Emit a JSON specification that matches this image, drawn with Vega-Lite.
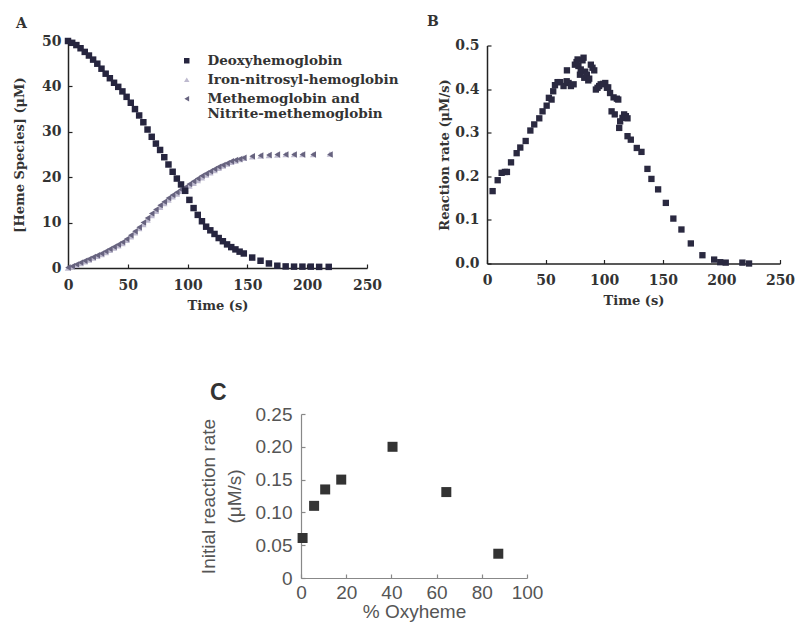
{
  "$schema": "https://vega.github.io/schema/vega-lite/v6.json",
  "background": "white",
  "padding": {"left": 13, "top": 14, "right": 5, "bottom": 5},
  "config": {
    "view": {"stroke": null},
    "axis": {"grid": false, "labelFlush": false, "domainColor": "#222", "tickColor": "#222", "domainWidth": 1.5, "tickWidth": 1.2, "tickSize": -4,
      "labelFont": "DejaVu Serif", "labelFontWeight": "bold", "labelFontSize": 14, "labelColor": "#333",
      "titleFont": "DejaVu Serif", "titleFontWeight": "bold", "titleFontSize": 13, "titleColor": "#333"},
    "axisX": {"labelPadding": 14, "titlePadding": 7},
    "axisY": {"labelPadding": 11}
  },
  "datasets": {
    "heme": [
      {"t":0,"v":0.0,"species":"Iron-nitrosyl-hemoglobin"},{"t":3.5,"v":0.3,"species":"Iron-nitrosyl-hemoglobin"},{"t":7,"v":0.6,"species":"Iron-nitrosyl-hemoglobin"},{"t":10.5,"v":1.0,"species":"Iron-nitrosyl-hemoglobin"},{"t":14,"v":1.4,"species":"Iron-nitrosyl-hemoglobin"},{"t":17.5,"v":1.8,"species":"Iron-nitrosyl-hemoglobin"},{"t":21,"v":2.2,"species":"Iron-nitrosyl-hemoglobin"},{"t":24.5,"v":2.6,"species":"Iron-nitrosyl-hemoglobin"},{"t":28,"v":3.0,"species":"Iron-nitrosyl-hemoglobin"},{"t":31.5,"v":3.4,"species":"Iron-nitrosyl-hemoglobin"},{"t":35,"v":3.9,"species":"Iron-nitrosyl-hemoglobin"},{"t":38.5,"v":4.4,"species":"Iron-nitrosyl-hemoglobin"},{"t":42,"v":4.9,"species":"Iron-nitrosyl-hemoglobin"},{"t":45.5,"v":5.4,"species":"Iron-nitrosyl-hemoglobin"},{"t":49,"v":6.1,"species":"Iron-nitrosyl-hemoglobin"},{"t":52.5,"v":6.9,"species":"Iron-nitrosyl-hemoglobin"},{"t":56,"v":7.8,"species":"Iron-nitrosyl-hemoglobin"},{"t":59.5,"v":8.7,"species":"Iron-nitrosyl-hemoglobin"},{"t":63,"v":9.6,"species":"Iron-nitrosyl-hemoglobin"},{"t":66.5,"v":10.6,"species":"Iron-nitrosyl-hemoglobin"},{"t":70,"v":11.6,"species":"Iron-nitrosyl-hemoglobin"},{"t":73.5,"v":12.5,"species":"Iron-nitrosyl-hemoglobin"},{"t":77,"v":13.4,"species":"Iron-nitrosyl-hemoglobin"},{"t":80.5,"v":14.2,"species":"Iron-nitrosyl-hemoglobin"},{"t":84,"v":15.0,"species":"Iron-nitrosyl-hemoglobin"},{"t":87.5,"v":15.7,"species":"Iron-nitrosyl-hemoglobin"},{"t":91,"v":16.3,"species":"Iron-nitrosyl-hemoglobin"},{"t":94.5,"v":16.9,"species":"Iron-nitrosyl-hemoglobin"},{"t":98,"v":17.4,"species":"Iron-nitrosyl-hemoglobin"},{"t":101.5,"v":18.1,"species":"Iron-nitrosyl-hemoglobin"},{"t":105,"v":18.7,"species":"Iron-nitrosyl-hemoglobin"},{"t":108.5,"v":19.3,"species":"Iron-nitrosyl-hemoglobin"},{"t":112,"v":19.9,"species":"Iron-nitrosyl-hemoglobin"},{"t":115.5,"v":20.5,"species":"Iron-nitrosyl-hemoglobin"},{"t":119,"v":21.0,"species":"Iron-nitrosyl-hemoglobin"},{"t":122.5,"v":21.5,"species":"Iron-nitrosyl-hemoglobin"},{"t":126,"v":22.0,"species":"Iron-nitrosyl-hemoglobin"},{"t":129.5,"v":22.5,"species":"Iron-nitrosyl-hemoglobin"},{"t":133,"v":22.9,"species":"Iron-nitrosyl-hemoglobin"},{"t":136.5,"v":23.3,"species":"Iron-nitrosyl-hemoglobin"},{"t":140,"v":23.6,"species":"Iron-nitrosyl-hemoglobin"},{"t":143.5,"v":23.9,"species":"Iron-nitrosyl-hemoglobin"},{"t":147,"v":24.2,"species":"Iron-nitrosyl-hemoglobin"},{"t":154,"v":24.5,"species":"Iron-nitrosyl-hemoglobin"},{"t":161,"v":24.7,"species":"Iron-nitrosyl-hemoglobin"},{"t":168,"v":24.8,"species":"Iron-nitrosyl-hemoglobin"},{"t":175,"v":24.9,"species":"Iron-nitrosyl-hemoglobin"},{"t":182,"v":25.0,"species":"Iron-nitrosyl-hemoglobin"},{"t":189,"v":25.0,"species":"Iron-nitrosyl-hemoglobin"},{"t":196,"v":25.0,"species":"Iron-nitrosyl-hemoglobin"},{"t":205,"v":25.0,"species":"Iron-nitrosyl-hemoglobin"},{"t":219,"v":25.1,"species":"Iron-nitrosyl-hemoglobin"},
      {"t":0,"v":0.1,"species":"Methemoglobin and Nitrite-methemoglobin"},{"t":3.5,"v":0.4,"species":"Methemoglobin and Nitrite-methemoglobin"},{"t":7,"v":0.8,"species":"Methemoglobin and Nitrite-methemoglobin"},{"t":10.5,"v":1.2,"species":"Methemoglobin and Nitrite-methemoglobin"},{"t":14,"v":1.6,"species":"Methemoglobin and Nitrite-methemoglobin"},{"t":17.5,"v":2.0,"species":"Methemoglobin and Nitrite-methemoglobin"},{"t":21,"v":2.4,"species":"Methemoglobin and Nitrite-methemoglobin"},{"t":24.5,"v":2.8,"species":"Methemoglobin and Nitrite-methemoglobin"},{"t":28,"v":3.2,"species":"Methemoglobin and Nitrite-methemoglobin"},{"t":31.5,"v":3.7,"species":"Methemoglobin and Nitrite-methemoglobin"},{"t":35,"v":4.2,"species":"Methemoglobin and Nitrite-methemoglobin"},{"t":38.5,"v":4.7,"species":"Methemoglobin and Nitrite-methemoglobin"},{"t":42,"v":5.2,"species":"Methemoglobin and Nitrite-methemoglobin"},{"t":45.5,"v":5.7,"species":"Methemoglobin and Nitrite-methemoglobin"},{"t":49,"v":6.4,"species":"Methemoglobin and Nitrite-methemoglobin"},{"t":52.5,"v":7.2,"species":"Methemoglobin and Nitrite-methemoglobin"},{"t":56,"v":8.1,"species":"Methemoglobin and Nitrite-methemoglobin"},{"t":59.5,"v":9.0,"species":"Methemoglobin and Nitrite-methemoglobin"},{"t":63,"v":10.0,"species":"Methemoglobin and Nitrite-methemoglobin"},{"t":66.5,"v":11.0,"species":"Methemoglobin and Nitrite-methemoglobin"},{"t":70,"v":12.0,"species":"Methemoglobin and Nitrite-methemoglobin"},{"t":73.5,"v":12.9,"species":"Methemoglobin and Nitrite-methemoglobin"},{"t":77,"v":13.8,"species":"Methemoglobin and Nitrite-methemoglobin"},{"t":80.5,"v":14.6,"species":"Methemoglobin and Nitrite-methemoglobin"},{"t":84,"v":15.4,"species":"Methemoglobin and Nitrite-methemoglobin"},{"t":87.5,"v":16.1,"species":"Methemoglobin and Nitrite-methemoglobin"},{"t":91,"v":16.7,"species":"Methemoglobin and Nitrite-methemoglobin"},{"t":94.5,"v":17.3,"species":"Methemoglobin and Nitrite-methemoglobin"},{"t":98,"v":17.8,"species":"Methemoglobin and Nitrite-methemoglobin"},{"t":101.5,"v":18.5,"species":"Methemoglobin and Nitrite-methemoglobin"},{"t":105,"v":19.1,"species":"Methemoglobin and Nitrite-methemoglobin"},{"t":108.5,"v":19.7,"species":"Methemoglobin and Nitrite-methemoglobin"},{"t":112,"v":20.3,"species":"Methemoglobin and Nitrite-methemoglobin"},{"t":115.5,"v":20.8,"species":"Methemoglobin and Nitrite-methemoglobin"},{"t":119,"v":21.3,"species":"Methemoglobin and Nitrite-methemoglobin"},{"t":122.5,"v":21.8,"species":"Methemoglobin and Nitrite-methemoglobin"},{"t":126,"v":22.3,"species":"Methemoglobin and Nitrite-methemoglobin"},{"t":129.5,"v":22.7,"species":"Methemoglobin and Nitrite-methemoglobin"},{"t":133,"v":23.1,"species":"Methemoglobin and Nitrite-methemoglobin"},{"t":136.5,"v":23.5,"species":"Methemoglobin and Nitrite-methemoglobin"},{"t":140,"v":23.8,"species":"Methemoglobin and Nitrite-methemoglobin"},{"t":143.5,"v":24.0,"species":"Methemoglobin and Nitrite-methemoglobin"},{"t":147,"v":24.3,"species":"Methemoglobin and Nitrite-methemoglobin"},{"t":154,"v":24.6,"species":"Methemoglobin and Nitrite-methemoglobin"},{"t":161,"v":24.8,"species":"Methemoglobin and Nitrite-methemoglobin"},{"t":168,"v":24.9,"species":"Methemoglobin and Nitrite-methemoglobin"},{"t":175,"v":25.0,"species":"Methemoglobin and Nitrite-methemoglobin"},{"t":182,"v":25.0,"species":"Methemoglobin and Nitrite-methemoglobin"},{"t":189,"v":25.0,"species":"Methemoglobin and Nitrite-methemoglobin"},{"t":196,"v":25.0,"species":"Methemoglobin and Nitrite-methemoglobin"},{"t":205,"v":25.0,"species":"Methemoglobin and Nitrite-methemoglobin"},{"t":219,"v":25.0,"species":"Methemoglobin and Nitrite-methemoglobin"},
      {"t":0,"v":50.0,"species":"Deoxyhemoglobin"},{"t":3.5,"v":49.6,"species":"Deoxyhemoglobin"},{"t":7,"v":49.1,"species":"Deoxyhemoglobin"},{"t":10.5,"v":48.4,"species":"Deoxyhemoglobin"},{"t":14,"v":47.6,"species":"Deoxyhemoglobin"},{"t":17.5,"v":46.8,"species":"Deoxyhemoglobin"},{"t":21,"v":45.9,"species":"Deoxyhemoglobin"},{"t":24.5,"v":45.0,"species":"Deoxyhemoglobin"},{"t":28,"v":43.9,"species":"Deoxyhemoglobin"},{"t":31.5,"v":42.8,"species":"Deoxyhemoglobin"},{"t":35,"v":41.8,"species":"Deoxyhemoglobin"},{"t":38.5,"v":40.8,"species":"Deoxyhemoglobin"},{"t":42,"v":39.9,"species":"Deoxyhemoglobin"},{"t":45.5,"v":38.9,"species":"Deoxyhemoglobin"},{"t":49,"v":37.7,"species":"Deoxyhemoglobin"},{"t":52.5,"v":36.4,"species":"Deoxyhemoglobin"},{"t":56,"v":35.0,"species":"Deoxyhemoglobin"},{"t":59.5,"v":33.6,"species":"Deoxyhemoglobin"},{"t":63,"v":32.1,"species":"Deoxyhemoglobin"},{"t":66.5,"v":30.5,"species":"Deoxyhemoglobin"},{"t":70,"v":28.9,"species":"Deoxyhemoglobin"},{"t":73.5,"v":27.4,"species":"Deoxyhemoglobin"},{"t":77,"v":26.0,"species":"Deoxyhemoglobin"},{"t":80.5,"v":24.4,"species":"Deoxyhemoglobin"},{"t":84,"v":22.8,"species":"Deoxyhemoglobin"},{"t":87.5,"v":21.2,"species":"Deoxyhemoglobin"},{"t":91,"v":19.7,"species":"Deoxyhemoglobin"},{"t":94.5,"v":18.4,"species":"Deoxyhemoglobin"},{"t":98,"v":17.0,"species":"Deoxyhemoglobin"},{"t":101.5,"v":15.0,"species":"Deoxyhemoglobin"},{"t":105,"v":13.2,"species":"Deoxyhemoglobin"},{"t":108.5,"v":11.7,"species":"Deoxyhemoglobin"},{"t":112,"v":10.3,"species":"Deoxyhemoglobin"},{"t":115.5,"v":9.1,"species":"Deoxyhemoglobin"},{"t":119,"v":8.3,"species":"Deoxyhemoglobin"},{"t":122.5,"v":7.5,"species":"Deoxyhemoglobin"},{"t":126,"v":6.6,"species":"Deoxyhemoglobin"},{"t":129.5,"v":5.9,"species":"Deoxyhemoglobin"},{"t":133,"v":5.2,"species":"Deoxyhemoglobin"},{"t":136.5,"v":4.6,"species":"Deoxyhemoglobin"},{"t":140,"v":4.1,"species":"Deoxyhemoglobin"},{"t":143.5,"v":3.6,"species":"Deoxyhemoglobin"},{"t":147,"v":3.2,"species":"Deoxyhemoglobin"},{"t":154,"v":2.3,"species":"Deoxyhemoglobin"},{"t":161,"v":1.6,"species":"Deoxyhemoglobin"},{"t":168,"v":1.0,"species":"Deoxyhemoglobin"},{"t":175,"v":0.5,"species":"Deoxyhemoglobin"},{"t":182,"v":0.35,"species":"Deoxyhemoglobin"},{"t":189,"v":0.3,"species":"Deoxyhemoglobin"},{"t":196,"v":0.3,"species":"Deoxyhemoglobin"},{"t":203,"v":0.3,"species":"Deoxyhemoglobin"},{"t":210,"v":0.25,"species":"Deoxyhemoglobin"},{"t":218,"v":0.25,"species":"Deoxyhemoglobin"}
    ],
    "rate": [
      {"t":4.8,"r":0.166},{"t":9.1,"r":0.191},{"t":12.5,"r":0.208},{"t":15.3,"r":0.21},{"t":17,"r":0.21},{"t":20.5,"r":0.232},{"t":25.3,"r":0.253},{"t":28.4,"r":0.266},{"t":33,"r":0.281},{"t":37,"r":0.305},{"t":40.3,"r":0.319},{"t":44.6,"r":0.333},{"t":47.4,"r":0.349},{"t":50.9,"r":0.362},{"t":52.8,"r":0.38},{"t":55.1,"r":0.376},{"t":56.5,"r":0.395},{"t":58,"r":0.409},{"t":60.2,"r":0.416},{"t":62.5,"r":0.416},{"t":65.3,"r":0.407},{"t":68,"r":0.418},{"t":68.2,"r":0.443},{"t":69.6,"r":0.414},{"t":71.6,"r":0.407},{"t":73.9,"r":0.411},{"t":75,"r":0.456},{"t":76.4,"r":0.462},{"t":77.3,"r":0.468},{"t":78,"r":0.453},{"t":79.3,"r":0.433},{"t":80,"r":0.445},{"t":81.5,"r":0.466},{"t":82.4,"r":0.472},{"t":83,"r":0.426},{"t":83.8,"r":0.44},{"t":85.2,"r":0.433},{"t":86.4,"r":0.42},{"t":87.2,"r":0.424},{"t":88.6,"r":0.456},{"t":90,"r":0.449},{"t":91.5,"r":0.443},{"t":92.9,"r":0.399},{"t":94.3,"r":0.403},{"t":95.7,"r":0.407},{"t":97,"r":0.411},{"t":99,"r":0.412},{"t":100.9,"r":0.414},{"t":102.3,"r":0.403},{"t":103.4,"r":0.404},{"t":105,"r":0.391},{"t":106.3,"r":0.349},{"t":108,"r":0.381},{"t":109,"r":0.342},{"t":110.8,"r":0.378},{"t":112,"r":0.376},{"t":112.8,"r":0.311},{"t":113.6,"r":0.326},{"t":115.6,"r":0.334},{"t":117,"r":0.342},{"t":118.5,"r":0.338},{"t":119.9,"r":0.333},{"t":119.9,"r":0.292},{"t":122.7,"r":0.284},{"t":127.8,"r":0.265},{"t":131.8,"r":0.256},{"t":136.9,"r":0.217},{"t":140.3,"r":0.194},{"t":146,"r":0.17},{"t":152.6,"r":0.139},{"t":159,"r":0.103},{"t":165.9,"r":0.078},{"t":173.9,"r":0.046},{"t":183.8,"r":0.019},{"t":193.8,"r":0.009},{"t":199,"r":0.003},{"t":203.7,"r":0.002},{"t":217.9,"r":0.002},{"t":223.6,"r":0.0}
    ],
    "oxy": [
      {"pct":0.7,"rate":0.061},{"pct":5.8,"rate":0.11},{"pct":10.7,"rate":0.135},{"pct":17.8,"rate":0.15},{"pct":40.5,"rate":0.2},{"pct":64.3,"rate":0.131},{"pct":87.3,"rate":0.037}
    ]
  },
  "vconcat": [
    {
      "hconcat": [
        {
          "title": {"text": "A", "anchor": "start", "frame": "group", "dx": -52, "offset": 3, "font": "DejaVu Serif", "fontWeight": "bold", "fontSize": 14, "color": "#333"},
          "width": 299, "height": 227,
          "data": {"name": "heme"},
          "mark": {"type": "point", "filled": true, "opacity": 1, "size": 42},
          "encoding": {
            "x": {"field": "t", "type": "quantitative", "scale": {"domain": [0, 250]}, "axis": {"title": "Time (s)", "values": [0, 50, 100, 150, 200, 250]}},
            "y": {"field": "v", "type": "quantitative", "scale": {"domain": [0, 50]}, "axis": {"title": "[Heme Species] (μM)", "values": [0, 10, 20, 30, 40, 50], "titlePadding": 15}},
            "color": {"field": "species", "type": "nominal",
              "scale": {"domain": ["Deoxyhemoglobin", "Iron-nitrosyl-hemoglobin", "Methemoglobin and Nitrite-methemoglobin"], "range": ["#26253f", "#bebacf", "#67637f"]},
              "legend": {"title": null, "orient": "none", "legendX": 112, "legendY": 13, "labelFont": "DejaVu Serif", "labelFontWeight": "bold", "labelFontSize": 13.5, "labelColor": "#333", "symbolSize": 30, "rowPadding": 4, "labelOffset": 14, "labelLimit": 400,
                "labelExpr": "datum.label == 'Methemoglobin and Nitrite-methemoglobin' ? ['Methemoglobin and', 'Nitrite-methemoglobin'] : datum.label"}},
            "shape": {"field": "species", "type": "nominal",
              "scale": {"domain": ["Deoxyhemoglobin", "Iron-nitrosyl-hemoglobin", "Methemoglobin and Nitrite-methemoglobin"], "range": ["square", "triangle-up", "triangle-left"]},
              "legend": {"title": null, "orient": "none", "legendX": 112, "legendY": 13, "labelFont": "DejaVu Serif", "labelFontWeight": "bold", "labelFontSize": 13.5, "labelColor": "#333", "symbolSize": 30, "rowPadding": 4, "labelOffset": 14, "labelLimit": 400,
                "labelExpr": "datum.label == 'Methemoglobin and Nitrite-methemoglobin' ? ['Methemoglobin and', 'Nitrite-methemoglobin'] : datum.label"}}
          }
        },
        {
          "title": {"text": "B", "anchor": "start", "frame": "group", "dx": -60, "offset": 10, "font": "DejaVu Serif", "fontWeight": "bold", "fontSize": 14, "color": "#333"},
          "width": 293, "height": 218,
          "data": {"name": "rate"},
          "mark": {"type": "square", "filled": true, "opacity": 1, "size": 40, "color": "#2a2940"},
          "encoding": {
            "x": {"field": "t", "type": "quantitative", "scale": {"domain": [0, 250]}, "axis": {"title": "Time (s)", "values": [0, 50, 100, 150, 200, 250]}},
            "y": {"field": "r", "type": "quantitative", "scale": {"domain": [0, 0.5]}, "axis": {"title": "Reaction rate (μM/s)", "format": ".1f", "values": [0, 0.1, 0.2, 0.3, 0.4, 0.5], "labelPadding": 12, "titlePadding": 3}}
          }
        }
      ],
      "spacing": 120,
      "bounds": "flush",
      "center": true
    },
    {
      "hconcat": [
        {
          "width": 233, "height": 10,
          "data": {"values": []},
          "mark": {"type": "point", "opacity": 0}
        },
        {
          "title": {"text": "C", "anchor": "start", "frame": "group", "dx": -91, "offset": 0, "font": "Liberation Sans", "fontWeight": "bold", "fontSize": 23, "color": "#333"},
          "width": 226, "height": 164,
          "data": {"name": "oxy"},
          "mark": {"type": "square", "filled": true, "opacity": 1, "size": 100, "color": "#333"},
          "encoding": {
            "x": {"field": "pct", "type": "quantitative", "scale": {"domain": [0, 100]},
              "axis": {"title": "% Oxyheme", "values": [0, 20, 40, 60, 80, 100], "labelFont": "Liberation Sans", "labelFontWeight": "normal", "labelFontSize": 19, "labelColor": "#555", "titleFont": "Liberation Sans", "titleFontWeight": "normal", "titleFontSize": 19, "titleColor": "#555", "domainColor": "#888", "tickColor": "#888", "domainWidth": 1.2, "labelPadding": 9, "titlePadding": 0}},
            "y": {"field": "rate", "type": "quantitative", "scale": {"domain": [0, 0.25]},
              "axis": {"title": ["Initial reaction rate", "(μM/s)"], "values": [0, 0.05, 0.1, 0.15, 0.2, 0.25], "labelExpr": "datum.value === 0 ? '0' : format(datum.value, '.2f')", "labelFont": "Liberation Sans", "labelFontWeight": "normal", "labelFontSize": 19, "labelColor": "#555", "titleFont": "Liberation Sans", "titleFontWeight": "normal", "titleFontSize": 19, "titleColor": "#555", "domainColor": "#888", "tickColor": "#888", "domainWidth": 1.2, "labelPadding": 13, "titlePadding": 11, "titleLineHeight": 26}}
          }
        }
      ],
      "spacing": 0,
      "bounds": "flush"
    }
  ],
  "spacing": 70
}
